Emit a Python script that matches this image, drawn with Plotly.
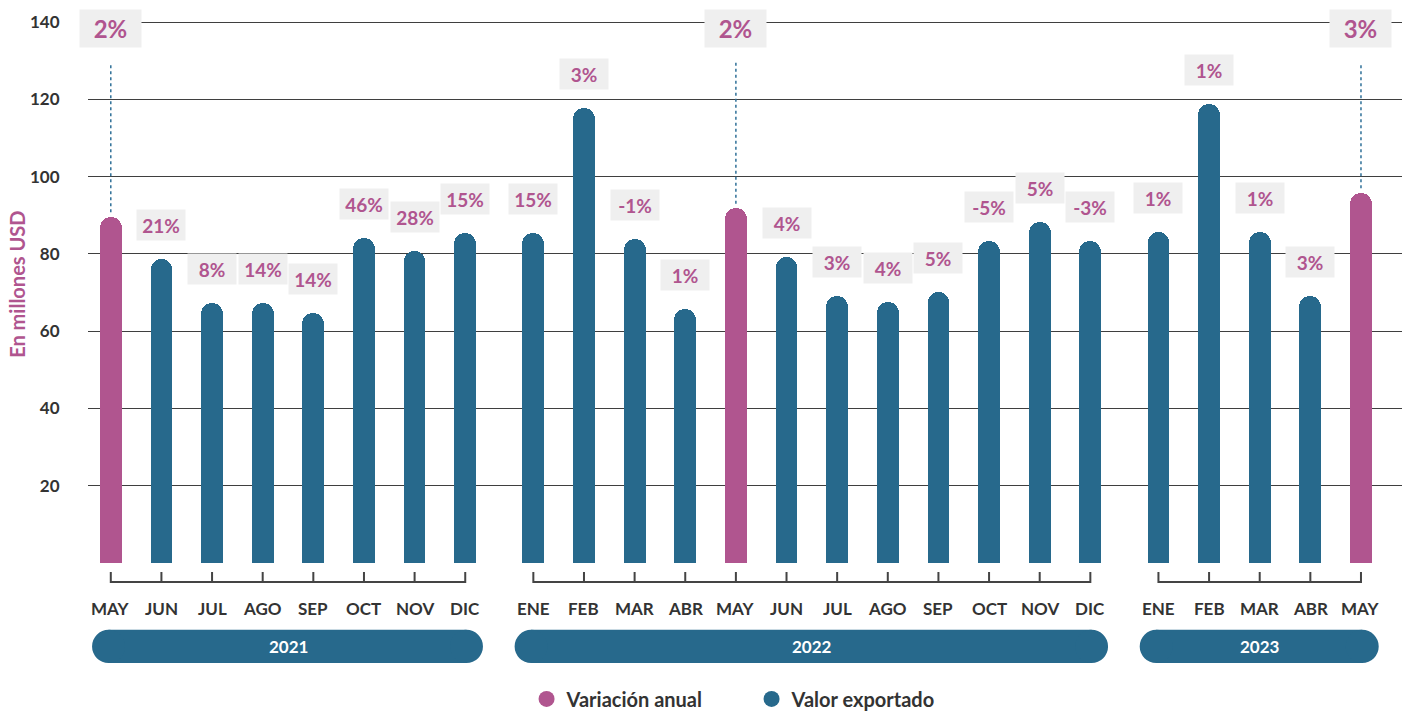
import plotly.graph_objects as go

# ---------------- data ----------------
years = ["2021", "2022", "2023"]
months_2021 = ["MAY", "JUN", "JUL", "AGO", "SEP", "OCT", "NOV", "DIC"]
months_2022 = ["ENE", "FEB", "MAR", "ABR", "MAY", "JUN", "JUL", "AGO", "SEP", "OCT", "NOV", "DIC"]
months_2023 = ["ENE", "FEB", "MAR", "ABR", "MAY"]

valor_2021 = [89.6, 78.6, 67.2, 67.2, 64.6, 84.0, 80.8, 85.3]
valor_2022 = [85.3, 117.7, 83.8, 65.7, 91.8, 79.2, 69.1, 67.6, 70.2, 83.3, 88.3, 83.4]
valor_2023 = [85.6, 118.8, 85.6, 69.1, 95.8]

var_2021 = [2, 21, 8, 14, 14, 46, 28, 15]
var_2022 = [15, 3, -1, 1, 2, 4, 3, 4, 5, -5, 5, -3]
var_2023 = [1, 1, 1, 3, 3]

highlight_month = "MAY"
y_ticks = [20, 40, 60, 80, 100, 120, 140]

# ---------------- styles ----------------
BLUE = "#27698C"
MAGENTA = "#B0558F"
LABEL_BG = "#EFEFEF"
DARK = "#333333"
FONT = "Lato"
GAP = 0.345

groups = [
    (years[0], months_2021, valor_2021, var_2021),
    (years[1], months_2022, valor_2022, var_2022),
    (years[2], months_2023, valor_2023, var_2023),
]

xs, vals, mons, vars_, grp_ranges = [], [], [], [], []
idx = 0
for g, (yr, ms, vs, vr) in enumerate(groups):
    start = len(xs)
    for m, v, p in zip(ms, vs, vr):
        xs.append(idx + g * GAP)
        vals.append(v)
        mons.append(m)
        vars_.append(p)
        idx += 1
    grp_ranges.append((yr, xs[start], xs[-1], xs[start:]))

colors = [MAGENTA if m == highlight_month else BLUE for m in mons]

fig = go.Figure()
fig.add_trace(go.Bar(
    x=xs, y=vals, width=0.43,
    marker=dict(color=colors, cornerradius=11, line=dict(width=0)),
    showlegend=False, hoverinfo="skip",
))

# legend entries
fig.add_trace(go.Scatter(x=[None], y=[None], mode="markers", name="Variación anual",
                         marker=dict(color=MAGENTA, size=16, symbol="circle")))
fig.add_trace(go.Scatter(x=[None], y=[None], mode="markers", name="Valor exportado",
                         marker=dict(color=BLUE, size=16, symbol="circle")))

annotations = []
shapes = []

for x, v, m, p in zip(xs, vals, mons, vars_):
    txt = f"{p}%"
    if m == highlight_month:
        annotations.append(dict(
            x=x, y=138.2, xref="x", yref="y", text=txt, showarrow=False,
            font=dict(family=FONT, size=24, color=MAGENTA, weight="bold"),
            bgcolor=LABEL_BG, width=53, height=29, borderpad=4,
        ))
        shapes.append(dict(type="line", xref="x", yref="y", x0=x, x1=x,
                           y0=v + 1.2, y1=129.5,
                           line=dict(color="#2F7098", width=1.5, dash="dot")))
    else:
        annotations.append(dict(
            x=x, y=v, xref="x", yref="y", yshift=34, text=txt, showarrow=False,
            font=dict(family=FONT, size=19, color=MAGENTA, weight="bold"),
            bgcolor=LABEL_BG, width=40, height=22, borderpad=4,
        ))
    annotations.append(dict(
        x=x, y=-11.9, xref="x", yref="y", text=m, showarrow=False,
        font=dict(family=FONT, size=17, color=DARK, weight="bold"),
    ))

# brackets and year pills
BR_Y = -4.9
BR_T = -2.3
PILL_T, PILL_B = -17.3, -25.9
PILL_RX = 16.5 / 50.64
for yr, x0, x1, gx in grp_ranges:
    path = f"M{x0},{BR_T} L{x0},{BR_Y} L{x1},{BR_Y} L{x1},{BR_T}"
    for xx in gx[1:-1]:
        path += f" M{xx},{BR_Y} L{xx},{BR_T}"
    shapes.append(dict(type="path", xref="x", yref="y", path=path,
                       line=dict(color="#444444", width=2)))
    px0 = x0 - 0.37
    px1 = x1 + 0.35
    shapes.append(dict(type="rect", xref="x", yref="y",
                       x0=px0 + PILL_RX, x1=px1 - PILL_RX, y0=PILL_B, y1=PILL_T,
                       fillcolor=BLUE, line=dict(width=0)))
    for cx in (px0 + PILL_RX, px1 - PILL_RX):
        shapes.append(dict(type="circle", xref="x", yref="y",
                           x0=cx - PILL_RX, x1=cx + PILL_RX, y0=PILL_B, y1=PILL_T,
                           fillcolor=BLUE, line=dict(width=0)))
    annotations.append(dict(
        x=(x0 + x1) / 2, y=(PILL_T + PILL_B) / 2, xref="x", yref="y", text=yr,
        showarrow=False, font=dict(family=FONT, size=17, color="white", weight="bold"),
    ))

annotations.append(dict(
    x=-0.054, y=72, xref="paper", yref="y", xanchor="center", yanchor="middle",
    text="En millones USD", textangle=-90,
    showarrow=False, font=dict(family=FONT, size=20, color=MAGENTA, weight="bold"),
))

fig.update_layout(
    width=1402, height=711,
    margin=dict(l=88, r=0, t=0, b=0, autoexpand=False),
    paper_bgcolor="white", plot_bgcolor="white",
    xaxis=dict(range=[-0.45, xs[-1] + 0.81], visible=False, fixedrange=True),
    yaxis=dict(range=[-38.3, 145.7], tickvals=y_ticks, showgrid=True,
               gridcolor="#3F3F3F", gridwidth=1, zeroline=False, showline=False,
               ticks="outside", ticklen=24, tickcolor="rgba(0,0,0,0)",
               tickfont=dict(family=FONT, size=17, color=DARK, weight="bold")),
    legend=dict(orientation="h", x=0.505, xanchor="center", y=0.017, yanchor="middle",
                font=dict(family=FONT, size=20, color=DARK, weight="bold"),
                itemwidth=30, traceorder="normal", entrywidth=180),
    annotations=annotations,
    shapes=shapes,
    bargap=0,
)

fig.write_html("out.html", config={"displayModeBar": False},
               post_script="document.body.style.margin='0';")
